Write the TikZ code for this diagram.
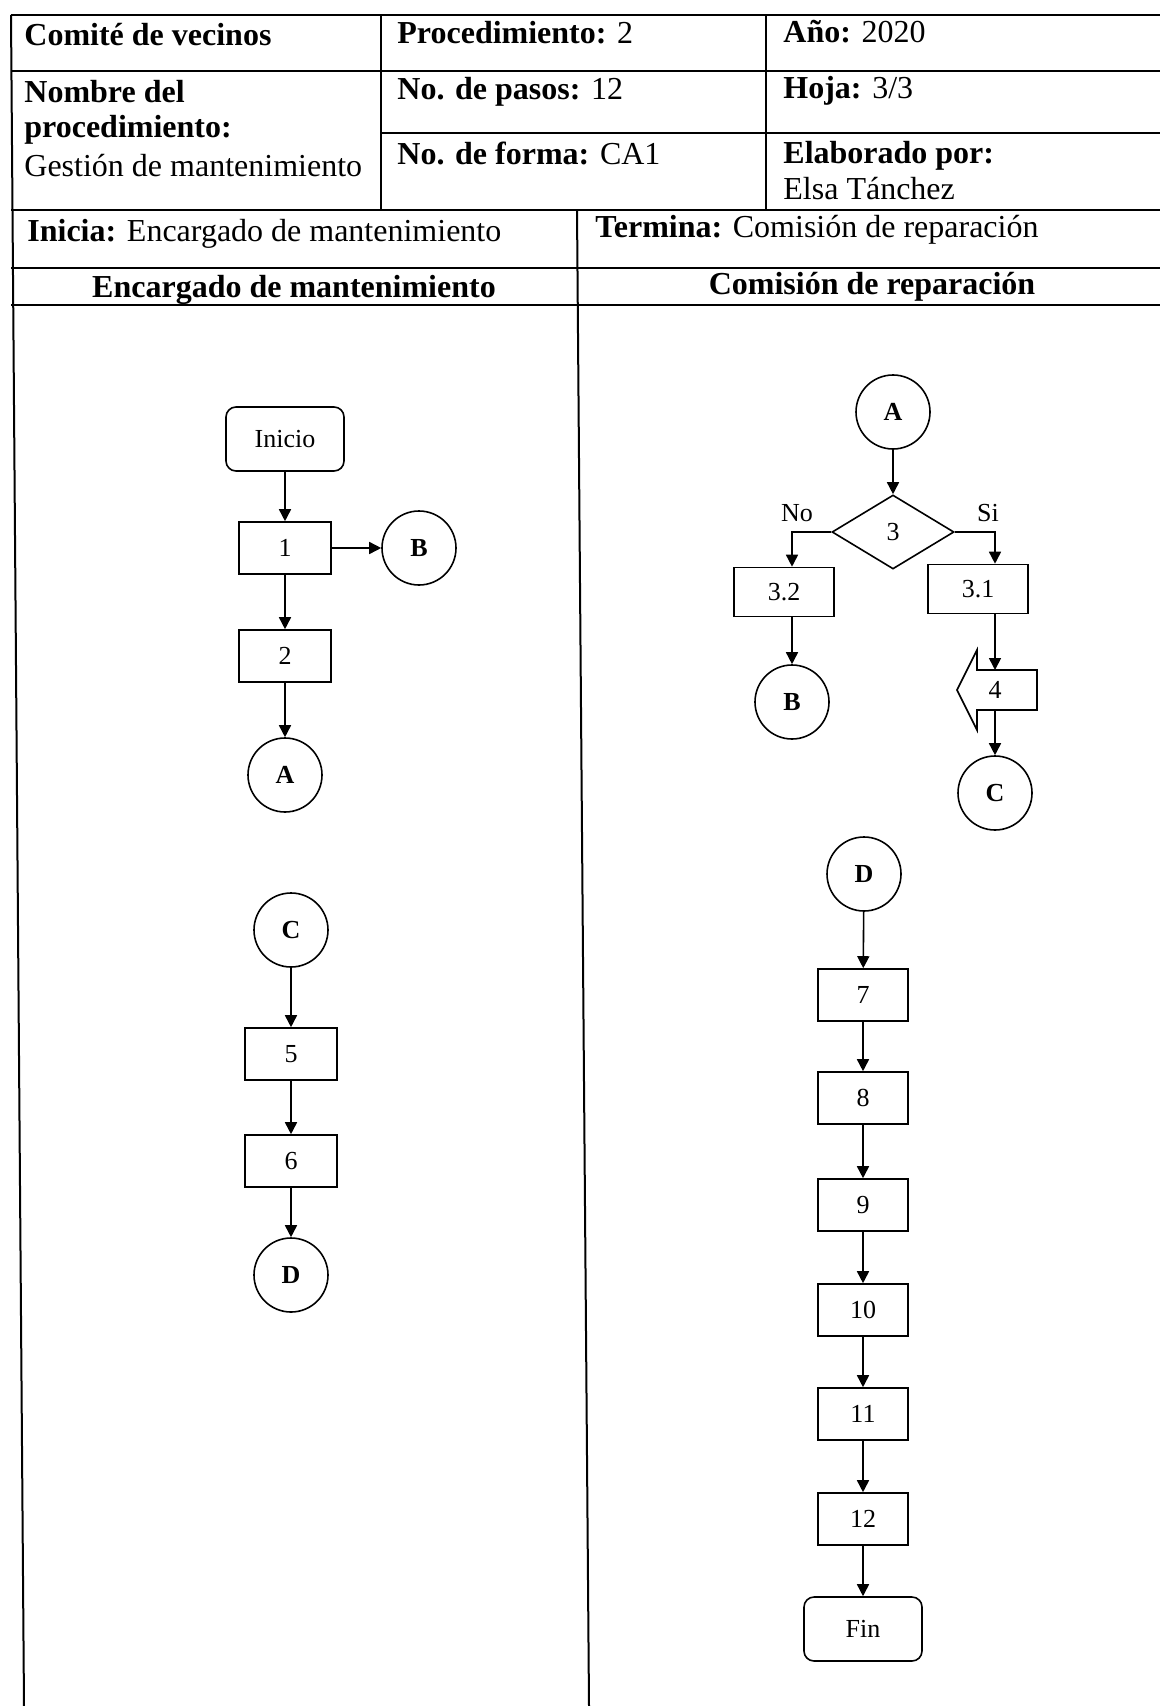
\documentclass[tikz,border=0pt]{standalone}
\usepackage{fontspec}
\setmainfont{Liberation Serif}
\usetikzlibrary{arrows.meta,shapes.geometric}

\begin{document}
\begin{tikzpicture}[x=0.5pt,y=-0.5pt,
  cell/.style={anchor=base west, inner sep=0pt, font=\fontsize{16}{19}\selectfont},
  head/.style={anchor=base, inner sep=0pt, font=\fontsize{16}{19}\selectfont\bfseries},
  rule/.style={line width=1pt},
  box/.style={rectangle, draw, line width=0.8pt, minimum width=46pt, minimum height=26pt, inner sep=0pt, font=\fontsize{13}{15}\selectfont},
  term/.style={rectangle, draw, rounded corners=5pt, line width=0.8pt, minimum width=59pt, minimum height=32pt, inner sep=0pt, font=\fontsize{13}{15}\selectfont},
  conn/.style={circle, draw, line width=0.8pt, minimum size=37pt, inner sep=0pt, font=\fontsize{13}{15}\selectfont\bfseries},
  dec/.style={diamond, draw, line width=0.8pt, minimum width=61pt, minimum height=37pt, inner sep=0pt, font=\fontsize{13}{15}\selectfont},
  tag/.style={inner sep=0pt, font=\fontsize{13}{15}\selectfont},
  flow/.style={-{Triangle[length=6pt,width=6pt]}, line width=0.8pt}]
\useasboundingbox (0,0) rectangle (1160,1706);

% table
\draw[rule] (11,15) -- (1160,15);
\draw[rule] (11,71) -- (1160,71);
\draw[rule] (381,133) -- (1160,133);
\draw[rule] (11,210) -- (1160,210);
\draw[rule] (11,268) -- (1160,268);
\draw[rule] (11,305) -- (1160,305);
\draw[rule] (11,15) -- (24,1706);
\draw[rule] (381,15) -- (381,210);
\draw[rule] (766,15) -- (766,210);
\draw[rule] (577,210) -- (589,1706);

\node[cell] (comite) at (24,46) {\bfseries Comité de vecinos};
\node[cell] (proc) at (397,44) {\textbf{Procedimiento:} 2};
\node[cell] (anio) at (783,43) {\textbf{Año:} 2020};
\node[cell] (nom1) at (24,103) {\bfseries Nombre del};
\node[cell] (nom2) at (24,138) {\bfseries procedimiento:};
\node[cell] (nom3) at (24,177) {Gestión de mantenimiento};
\node[cell] (pasos) at (397,100) {\textbf{No. de pasos:} 12};
\node[cell] (hoja) at (783,99) {\textbf{Hoja:} 3/3};
\node[cell] (forma) at (397,165) {\textbf{No. de forma:} CA1};
\node[cell] (elab1) at (783,164) {\bfseries Elaborado por:};
\node[cell] (elab2) at (783,200) {Elsa Tánchez};
\node[cell] (inicia) at (27,242) {\textbf{Inicia:} Encargado de mantenimiento};
\node[cell] (termina) at (595,238) {\textbf{Termina:} Comisión de reparación};
\node[head] (lane1) at (294,298) {Encargado de mantenimiento};
\node[head] (lane2) at (872,295) {Comisión de reparación};

% encargado de mantenimiento
\node[term] (ini) at (285,439) {Inicio};
\node[box] (b1) at (285,548) {1};
\node[conn] (cb1) at (419,548) {B};
\node[box] (b2) at (285,656) {2};
\node[conn] (ca1) at (285,775) {A};
\draw[flow] (ini) -- (b1);
\draw[flow] (b1) -- (cb1);
\draw[flow] (b1) -- (b2);
\draw[flow] (b2) -- (ca1);

\node[conn] (cc1) at (291,930) {C};
\node[box] (b5) at (291,1054) {5};
\node[box] (b6) at (291,1161) {6};
\node[conn] (cd1) at (291,1275) {D};
\draw[flow] (cc1) -- (b5);
\draw[flow] (b5) -- (b6);
\draw[flow] (b6) -- (cd1);

% comision de reparacion
\node[conn] (ca2) at (893,412) {A};
\node[dec] (d3) at (893,532) {3};
\node[box, minimum width=50pt, minimum height=24.5pt] (b32) at (784,592) {3.2};
\node[box, minimum width=50pt, minimum height=24.5pt] (b31) at (978,589) {3.1};
\node[conn] (cb2) at (792,702) {B};
\node[tag] (s4) at (995,690) {4};
\node[conn] (cc2) at (995,793) {C};
\node[tag] (lno) at (797,513) {No};
\node[tag] (lsi) at (988,513) {Si};
\draw[line width=0.8pt] (977,670) -- (1037,670) -- (1037,710) -- (977,710) -- (977,730) -- (957,690) -- (977,650) -- cycle;
\draw[flow] (ca2) -- (d3);
\draw[flow] (d3.west) -| (cb2 |- b32.north);
\draw[flow] (d3.east) -| (s4 |- b31.north);
\draw[flow] (cb2 |- b32.south) -- (cb2);
\draw[flow] (s4 |- b31.south) -- (995,670);
\draw[flow] (995,710) -- (cc2);

\node[conn] (cd2) at (864,874) {D};
\node[box, minimum width=45pt] (b7) at (863,995) {7};
\node[box, minimum width=45pt] (b8) at (863,1098) {8};
\node[box, minimum width=45pt] (b9) at (863,1205) {9};
\node[box, minimum width=45pt] (b10) at (863,1310) {10};
\node[box, minimum width=45pt] (b11) at (863,1414) {11};
\node[box, minimum width=45pt] (b12) at (863,1519) {12};
\node[term] (fin) at (863,1629) {Fin};
\draw[flow] (cd2) -- (b7);
\draw[flow] (b7) -- (b8);
\draw[flow] (b8) -- (b9);
\draw[flow] (b9) -- (b10);
\draw[flow] (b10) -- (b11);
\draw[flow] (b11) -- (b12);
\draw[flow] (b12) -- (fin);
\end{tikzpicture}
\end{document}
